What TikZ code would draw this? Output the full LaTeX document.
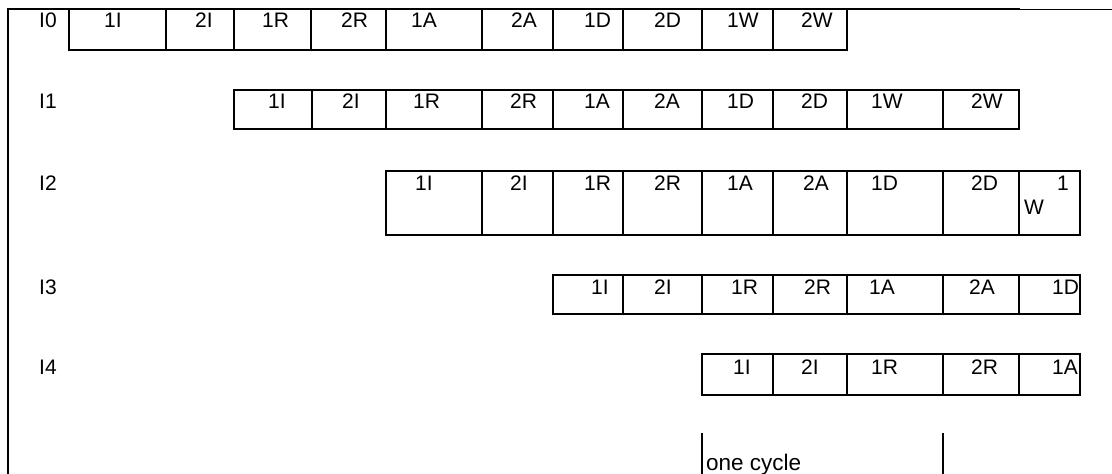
\documentclass[tikz,border=0pt]{standalone}
\usepackage{fontspec}
\setmainfont{Liberation Sans}
\usepackage{tikz}
\usetikzlibrary{calc}
\newcommand{\stage}[4]{ \draw[line width=1.4pt] ( #1 , #2 ) rectangle ( #3 , #4 );}
\newcommand{\lablnode}[4]{\node[anchor=base west,draw=none,fill=none, inner sep=0pt,minimum size=0pt,font=\fontsize{21}{25}\selectfont] (#1) at ( #2 , #3 ) {#4};}
\begin{document}
\begin{tikzpicture}[x=1pt,y=-1pt]
            \useasboundingbox (0,0) rectangle (1112,474);

            % frame
            \draw[line width=1.8pt] (8,474) -- (8,9) -- (1020,9);
            \draw[line width=0.9pt] (1020,9) -- (1112,9);

            % row I0
            \stage{69}{9}{166}{50}
            \stage{166}{9}{234}{50}
            \stage{234}{9}{311}{50}
            \stage{311}{9}{386}{50}
            \stage{386}{9}{482}{50}
            \stage{482}{9}{553}{50}
            \stage{553}{9}{623}{50}
            \stage{623}{9}{702}{50}
            \stage{702}{9}{773}{50}
            \stage{773}{9}{847}{50}

            % row I1
            \stage{234}{90}{312}{129}
            \stage{312}{90}{386}{129}
            \stage{386}{90}{482}{129}
            \stage{482}{90}{553}{129}
            \stage{553}{90}{623}{129}
            \stage{623}{90}{702}{129}
            \stage{702}{90}{773}{129}
            \stage{773}{90}{847}{129}
            \stage{847}{90}{943}{129}
            \stage{943}{90}{1019}{129}

            % row I2
            \stage{386}{171}{482}{235}
            \stage{482}{171}{553}{235}
            \stage{553}{171}{623}{235}
            \stage{623}{171}{702}{235}
            \stage{702}{171}{773}{235}
            \stage{773}{171}{847}{235}
            \stage{847}{171}{943}{235}
            \stage{943}{171}{1019}{235}
            \stage{1019}{171}{1080}{235}

            % row I3
            \stage{553}{275}{623}{314}
            \stage{623}{275}{702}{314}
            \stage{702}{275}{773}{314}
            \stage{773}{275}{847}{314}
            \stage{847}{275}{943}{314}
            \stage{943}{275}{1019}{314}
            \stage{1019}{275}{1080}{314}

            % row I4
            \stage{702}{354}{773}{395}
            \stage{773}{354}{847}{395}
            \stage{847}{354}{943}{395}
            \stage{943}{354}{1019}{395}
            \stage{1019}{354}{1080}{395}

            % labels row I0
            \lablnode{iz}{39}{27}{I0}
            \lablnode{iza}{104}{27}{1I}
            \lablnode{izb}{195}{27}{2I}
            \lablnode{izc}{262}{27}{1R}
            \lablnode{izd}{341}{27}{2R}
            \lablnode{ize}{411}{27}{1A}
            \lablnode{izf}{511}{27}{2A}
            \lablnode{izg}{584}{27}{1D}
            \lablnode{izh}{654}{27}{2D}
            \lablnode{izi}{727}{27}{1W}
            \lablnode{izj}{801}{27}{2W}

            % labels row I1
            \lablnode{io}{39}{108}{I1}
            \lablnode{ioa}{268}{108}{1I}
            \lablnode{iob}{342}{108}{2I}
            \lablnode{ioc}{413}{108}{1R}
            \lablnode{iod}{510}{108}{2R}
            \lablnode{ioe}{584}{108}{1A}
            \lablnode{iof}{654}{108}{2A}
            \lablnode{iog}{727}{108}{1D}
            \lablnode{ioh}{801}{108}{2D}
            \lablnode{ioi}{871}{108}{1W}
            \lablnode{ioj}{971}{108}{2W}

            % labels row I2
            \lablnode{it}{39}{190}{I2}
            \lablnode{ita}{415}{190}{1I}
            \lablnode{itb}{510}{190}{2I}
            \lablnode{itc}{584}{190}{1R}
            \lablnode{itd}{654}{190}{2R}
            \lablnode{ite}{727}{190}{1A}
            \lablnode{itf}{803}{190}{2A}
            \lablnode{itg}{871}{190}{1D}
            \lablnode{ith}{971}{190}{2D}
            \lablnode{iti}{1057}{190}{1}
            \lablnode{itw}{1024}{214}{W}

            % labels row I3
            \lablnode{ih}{39}{294}{I3}
            \lablnode{iha}{591}{294}{1I}
            \lablnode{ihb}{654}{294}{2I}
            \lablnode{ihc}{731}{294}{1R}
            \lablnode{ihd}{804}{294}{2R}
            \lablnode{ihe}{869}{294}{1A}
            \lablnode{ihf}{969}{294}{2A}
            \lablnode{ihg}{1052}{294}{1D}

            % labels row I4
            \lablnode{iv}{39}{374}{I4}
            \lablnode{iva}{733}{374}{1I}
            \lablnode{ivb}{801}{374}{2I}
            \lablnode{ivc}{871}{374}{1R}
            \lablnode{ivd}{971}{374}{2R}
            \lablnode{ive}{1052}{374}{1A}

            % one cycle
            \draw[line width=1.4pt] (702,433) -- (702,474);
            \draw[line width=1.4pt] (943,433) -- (943,474);
            \node[anchor=base west,inner sep=0pt,font=\fontsize{22.5}{27}\selectfont] (cyc) at (706,470) {one cycle};

        \end{tikzpicture}
\end{document}
